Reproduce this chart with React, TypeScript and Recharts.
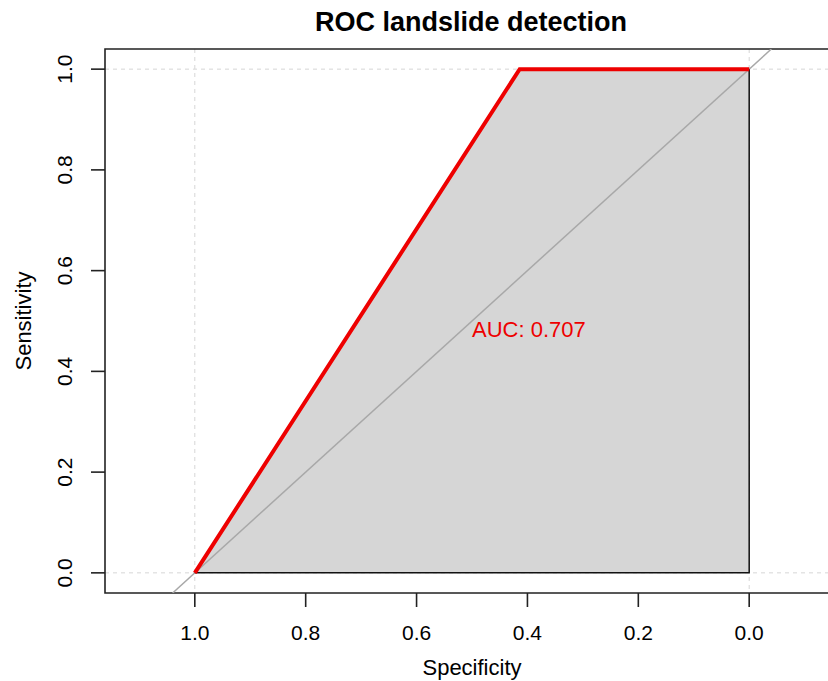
import {
  ComposedChart,
  Area,
  Line,
  XAxis,
  YAxis,
  CartesianGrid,
  ReferenceArea,
  ReferenceDot,
} from "recharts";

// ROC curve points (specificity on x, reversed; sensitivity on y)
const specificity = [1, 0.414, 0];
const sensitivity = [0, 1, 1];
const aucText = "AUC: 0.707";
const aucPos = { spec: 0.5, sens: 0.5 };

// chance diagonal, extended to the plot edges
const chanceSpec = [1.04, -0.04];
const chanceSens = [-0.04, 1.04];

// black outline of the AUC polygon (bottom and right sides)
const outlineSpec = [1, 0, 0];
const outlineSens = [0, 0, 1];

const tickValues = [0, 0.2, 0.4, 0.6, 0.8, 1];
const gridValues = [0, 1];
const xDomain = [-0.162, 1.162];
const yDomain = [-0.04, 1.04];

const FONT = "'Liberation Sans', Arial, Helvetica, sans-serif";

const rocData = specificity.map((s, i) => ({ spec: s, sens: sensitivity[i] }));
const chanceData = chanceSpec.map((s, i) => ({ spec: s, sens: chanceSens[i] }));
const outlineData = outlineSpec.map((s, i) => ({ spec: s, sens: outlineSens[i] }));

function XTick(props: any) {
  const { x, y, payload } = props;
  return (
    <text x={x} y={y} dy="0.71em" textAnchor="middle" fontSize={21} fill="#000" fontFamily={FONT}>
      {Number(payload.value).toFixed(1)}
    </text>
  );
}

function YTick(props: any) {
  const { x, y, payload } = props;
  const cx = x - 24;
  return (
    <text
      x={cx}
      y={y}
      dy="0.35em"
      transform={`rotate(-90, ${cx}, ${y})`}
      textAnchor="middle"
      fontSize={21}
      fill="#000"
      fontFamily={FONT}
    >
      {Number(payload.value).toFixed(1)}
    </text>
  );
}

function AucLabel(props: any) {
  const { cx, cy } = props;
  return (
    <text x={cx} y={cy} dy="0.72em" textAnchor="start" fontSize={22} fill="#ee0000" fontFamily={FONT}>
      {aucText}
    </text>
  );
}

export default function App() {
  return (
    <div
      style={{
        position: "absolute",
        left: 0,
        top: 0,
        width: 828,
        height: 681,
        overflow: "hidden",
        background: "#fff",
        fontFamily: FONT,
      }}
    >
      <ComposedChart
        width={850}
        height={681}
        margin={{ top: 49, right: 11, bottom: 0, left: 0 }}
      >
        <CartesianGrid
          horizontalValues={gridValues}
          verticalValues={gridValues}
          horizontal
          vertical
          stroke="#d6d6d6"
          strokeDasharray="4 4"
        />
        <XAxis
          type="number"
          dataKey="spec"
          domain={xDomain}
          reversed
          allowDataOverflow
          ticks={tickValues}
          tick={<XTick />}
          tickSize={14}
          tickMargin={18}
          tickLine={{ stroke: "#222", strokeWidth: 1.6 }}
          axisLine={false}
          height={88}
        />
        <YAxis
          type="number"
          dataKey="sens"
          domain={yDomain}
          allowDataOverflow
          ticks={tickValues}
          tick={<YTick />}
          tickSize={14}
          tickMargin={2}
          tickLine={{ stroke: "#222", strokeWidth: 1.6 }}
          axisLine={false}
          width={105}
        />
        <Area
          data={rocData}
          dataKey="sens"
          type="linear"
          baseValue={0}
          fill="#d6d6d6"
          fillOpacity={1}
          stroke="none"
          isAnimationActive={false}
        />
        <Line
          data={chanceData}
          dataKey="sens"
          type="linear"
          stroke="#a8a8a8"
          strokeWidth={1.5}
          dot={false}
          isAnimationActive={false}
        />
        <Line
          data={outlineData}
          dataKey="sens"
          type="linear"
          stroke="#111"
          strokeWidth={1.5}
          dot={false}
          isAnimationActive={false}
        />
        <Line
          data={rocData}
          dataKey="sens"
          type="linear"
          stroke="#ee0000"
          strokeWidth={4}
          dot={false}
          isAnimationActive={false}
        />
        <ReferenceArea
          x1={xDomain[0]}
          x2={xDomain[1]}
          y1={yDomain[0]}
          y2={yDomain[1]}
          fill="none"
          fillOpacity={0}
          stroke="#222"
          strokeWidth={1.6}
        />
        <ReferenceDot x={aucPos.spec} y={aucPos.sens} r={0} shape={<AucLabel />} />
      </ComposedChart>
      <div
        style={{
          position: "absolute",
          left: 471,
          top: 22,
          transform: "translate(-50%, -50%)",
          fontSize: 27,
          fontWeight: "bold",
          lineHeight: 1,
          whiteSpace: "nowrap",
          color: "#000",
        }}
      >
        ROC landslide detection
      </div>
      <div
        style={{
          position: "absolute",
          left: 472,
          top: 668,
          transform: "translate(-50%, -50%)",
          fontSize: 22,
          lineHeight: 1,
          whiteSpace: "nowrap",
          color: "#000",
        }}
      >
        Specificity
      </div>
      <div
        style={{
          position: "absolute",
          left: 24,
          top: 321,
          transform: "translate(-50%, -50%) rotate(-90deg)",
          fontSize: 22,
          lineHeight: 1,
          whiteSpace: "nowrap",
          color: "#000",
        }}
      >
        Sensitivity
      </div>
    </div>
  );
}
